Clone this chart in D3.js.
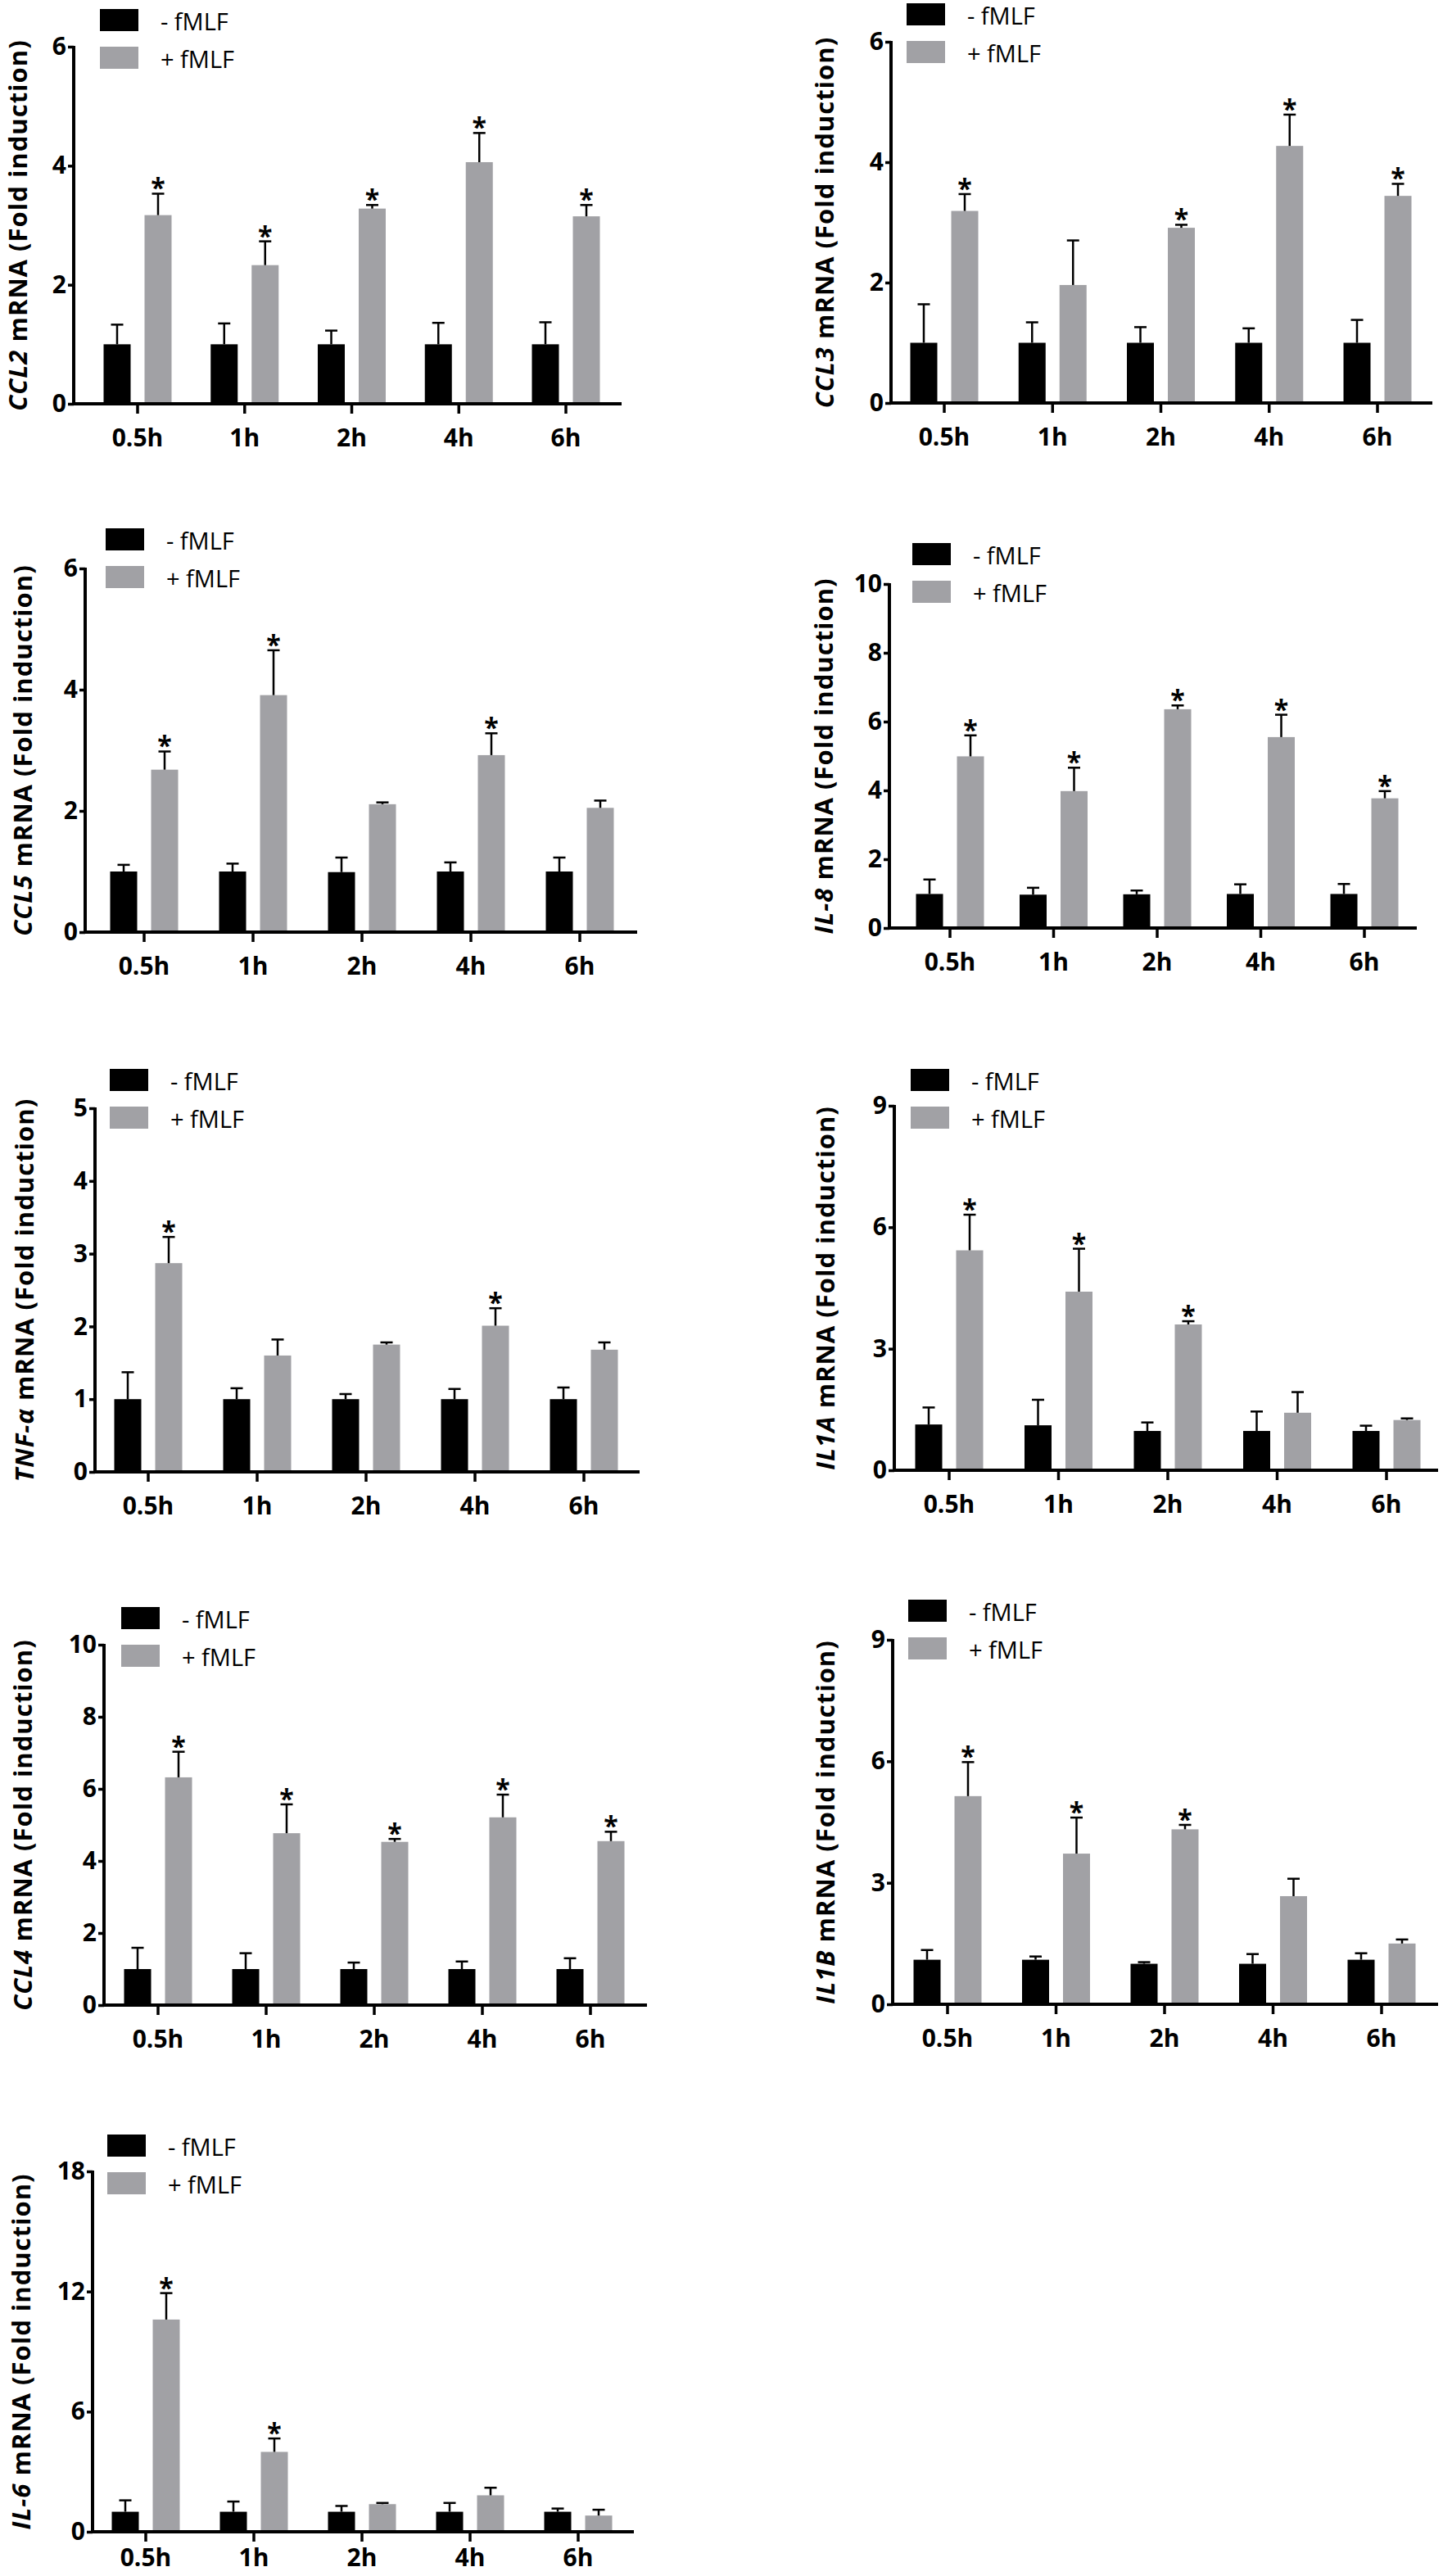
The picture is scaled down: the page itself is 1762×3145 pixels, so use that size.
<!DOCTYPE html>
<html>
<head>
<meta charset="utf-8">
<script src="https://cdn.jsdelivr.net/npm/d3@7"></script>
<style>
  body { margin: 0; background: #fff; }
  svg { display: block; }
  text { font-family: "Open Sans", sans-serif; }
</style>
</head>
<body>
<div id="figure"></div>
<script>
// time points and series
const timepoints = ["0.5h", "1h", "2h", "4h", "6h"];
const seriesNames = ["- fMLF", "+ fMLF"];

// CCL2
const ccl2Minus = [1.0, 1.0, 1.0, 1.0, 1.0];
const ccl2MinusErr = [0.33, 0.35, 0.23, 0.36, 0.37];
const ccl2Plus = [3.17, 2.33, 3.28, 4.06, 3.15];
const ccl2PlusErr = [0.36, 0.40, 0.06, 0.49, 0.19];
const ccl2Stars = [true, true, true, true, true];

// CCL3
const ccl3Minus = [1.0, 1.0, 1.0, 1.0, 1.0];
const ccl3MinusErr = [0.64, 0.34, 0.26, 0.24, 0.38];
const ccl3Plus = [3.19, 1.96, 2.91, 4.27, 3.44];
const ccl3PlusErr = [0.28, 0.74, 0.05, 0.52, 0.20];
const ccl3Stars = [true, false, true, true, true];

// CCL5
const ccl5Minus = [1.0, 1.0, 0.99, 1.0, 1.0];
const ccl5MinusErr = [0.11, 0.13, 0.24, 0.15, 0.23];
const ccl5Plus = [2.68, 3.91, 2.11, 2.92, 2.05];
const ccl5PlusErr = [0.30, 0.74, 0.03, 0.36, 0.12];
const ccl5Stars = [true, true, false, true, false];

// IL-8
const il8Minus = [0.99, 0.97, 0.98, 0.99, 0.99];
const il8MinusErr = [0.42, 0.20, 0.11, 0.28, 0.29];
const il8Plus = [4.99, 3.98, 6.36, 5.55, 3.77];
const il8PlusErr = [0.61, 0.68, 0.11, 0.65, 0.21];
const il8Stars = [true, true, true, true, true];

// TNF-alpha
const tnfMinus = [1.0, 1.0, 1.0, 1.0, 1.0];
const tnfMinusErr = [0.37, 0.15, 0.07, 0.14, 0.16];
const tnfPlus = [2.87, 1.60, 1.75, 2.01, 1.68];
const tnfPlusErr = [0.36, 0.22, 0.03, 0.24, 0.10];
const tnfStars = [true, false, false, true, false];

// IL1A
const il1aMinus = [1.13, 1.11, 0.97, 0.97, 0.97];
const il1aMinusErr = [0.42, 0.63, 0.21, 0.48, 0.13];
const il1aPlus = [5.43, 4.41, 3.60, 1.42, 1.24];
const il1aPlusErr = [0.88, 1.06, 0.08, 0.51, 0.04];
const il1aStars = [true, true, true, false, false];

// CCL4
const ccl4Minus = [1.0, 1.0, 1.0, 1.0, 1.0];
const ccl4MinusErr = [0.59, 0.44, 0.18, 0.21, 0.30];
const ccl4Plus = [6.32, 4.77, 4.53, 5.21, 4.55];
const ccl4PlusErr = [0.71, 0.80, 0.08, 0.63, 0.26];
const ccl4Stars = [true, true, true, true, true];

// IL1B
const il1bMinus = [1.10, 1.10, 1.00, 1.00, 1.10];
const il1bMinusErr = [0.24, 0.08, 0.04, 0.24, 0.16];
const il1bPlus = [5.14, 3.72, 4.32, 2.67, 1.50];
const il1bPlusErr = [0.84, 0.89, 0.11, 0.43, 0.10];
const il1bStars = [true, true, true, false, false];

// IL-6
const il6Minus = [1.0, 1.0, 1.0, 1.0, 1.0];
const il6MinusErr = [0.57, 0.51, 0.29, 0.44, 0.16];
const il6Plus = [10.6, 3.99, 1.38, 1.82, 0.81];
const il6PlusErr = [1.32, 0.67, 0.06, 0.38, 0.29];
const il6Stars = [true, true, false, false, false];

const colors = ["#000000", "#a1a1a5"];

// panel placement on the page
const panels = [
  {gene: "CCL2", minus: ccl2Minus, minusErr: ccl2MinusErr, plus: ccl2Plus, plusErr: ccl2PlusErr, stars: ccl2Stars,
   yMax: 6, yTicks: [0, 2, 4, 6], left: 90, right: 759, top: 57, bottom: 493, firstTick: 168, lastTick: 691,
   legendX: 122, legendY: 11, labelX: 21},
  {gene: "CCL3", minus: ccl3Minus, minusErr: ccl3MinusErr, plus: ccl3Plus, plusErr: ccl3PlusErr, stars: ccl3Stars,
   yMax: 6, yTicks: [0, 2, 4, 6], left: 1088, right: 1749, top: 51, bottom: 492, firstTick: 1153, lastTick: 1682,
   legendX: 1107, legendY: 4, labelX: 1006},
  {gene: "CCL5", minus: ccl5Minus, minusErr: ccl5MinusErr, plus: ccl5Plus, plusErr: ccl5PlusErr, stars: ccl5Stars,
   yMax: 6, yTicks: [0, 2, 4, 6], left: 104, right: 778, top: 694, bottom: 1138, firstTick: 176, lastTick: 708,
   legendX: 129, legendY: 645, labelX: 27},
  {gene: "IL-8", minus: il8Minus, minusErr: il8MinusErr, plus: il8Plus, plusErr: il8PlusErr, stars: il8Stars,
   yMax: 10, yTicks: [0, 2, 4, 6, 8, 10], left: 1086, right: 1730, top: 713, bottom: 1133, firstTick: 1160, lastTick: 1666,
   legendX: 1114, legendY: 663, labelX: 1005},
  {gene: "TNF-α", minus: tnfMinus, minusErr: tnfMinusErr, plus: tnfPlus, plusErr: tnfPlusErr, stars: tnfStars,
   yMax: 5, yTicks: [0, 1, 2, 3, 4, 5], left: 116, right: 781, top: 1353, bottom: 1797, firstTick: 181, lastTick: 713,
   legendX: 134, legendY: 1305, labelX: 29},
  {gene: "IL1A", minus: il1aMinus, minusErr: il1aMinusErr, plus: il1aPlus, plusErr: il1aPlusErr, stars: il1aStars,
   yMax: 9, yTicks: [0, 3, 6, 9], left: 1092, right: 1756, top: 1350, bottom: 1795, firstTick: 1159, lastTick: 1693,
   legendX: 1112, legendY: 1305, labelX: 1007},
  {gene: "CCL4", minus: ccl4Minus, minusErr: ccl4MinusErr, plus: ccl4Plus, plusErr: ccl4PlusErr, stars: ccl4Stars,
   yMax: 10, yTicks: [0, 2, 4, 6, 8, 10], left: 127, right: 790, top: 2008, bottom: 2448, firstTick: 193, lastTick: 721,
   legendX: 148, legendY: 1962, labelX: 27},
  {gene: "IL1B", minus: il1bMinus, minusErr: il1bMinusErr, plus: il1bPlus, plusErr: il1bPlusErr, stars: il1bStars,
   yMax: 9, yTicks: [0, 3, 6, 9], left: 1090, right: 1756, top: 2002, bottom: 2447, firstTick: 1157, lastTick: 1687,
   legendX: 1109, legendY: 1953, labelX: 1007},
  {gene: "IL-6", minus: il6Minus, minusErr: il6MinusErr, plus: il6Plus, plusErr: il6PlusErr, stars: il6Stars,
   yMax: 18, yTicks: [0, 6, 12, 18], left: 113, right: 774, top: 2651, bottom: 3091, firstTick: 178, lastTick: 706,
   legendX: 131, legendY: 2606, labelX: 25, tickPad: 9}
];

const width = 1762, height = 3145;

const svg = d3.select("#figure")
  .append("svg")
  .attr("width", width)
  .attr("height", height);

function drawPanel(p) {
  const g = svg.append("g");

  // group scale centred on the tick marks
  const step = (p.lastTick - p.firstTick) / (timepoints.length - 1);
  const x0 = d3.scaleBand()
    .domain(timepoints)
    .range([p.firstTick - step / 2, p.lastTick + step / 2])
    .padding(0);

  // two bars inside every group
  const x1 = d3.scaleBand()
    .domain([0, 1])
    .range([-41.5, 41.5])
    .paddingInner(0.34);

  const y = d3.scaleLinear()
    .domain([0, p.yMax])
    .range([p.bottom, p.top]);

  const rows = [];
  timepoints.forEach((t, i) => {
    rows.push({t: t, s: 0, v: p.minus[i], e: p.minusErr[i], star: false});
    rows.push({t: t, s: 1, v: p.plus[i], e: p.plusErr[i], star: p.stars[i]});
  });
  const cx = d => x0(d.t) + x0.bandwidth() / 2 + x1(d.s) + x1.bandwidth() / 2;

  // bars
  g.selectAll("rect.bar")
    .data(rows)
    .enter()
    .append("rect")
      .attr("class", "bar")
      .attr("x", d => cx(d) - x1.bandwidth() / 2)
      .attr("y", d => y(d.v))
      .attr("width", x1.bandwidth())
      .attr("height", d => y(0) - y(d.v))
      .attr("fill", d => colors[d.s]);

  // error bars (upper half only)
  g.selectAll("line.err")
    .data(rows)
    .enter()
    .append("line")
      .attr("class", "err")
      .attr("x1", cx).attr("x2", cx)
      .attr("y1", d => y(d.v)).attr("y2", d => y(d.v + d.e))
      .attr("stroke", "#000").attr("stroke-width", 2.5);

  g.selectAll("line.cap")
    .data(rows)
    .enter()
    .append("line")
      .attr("class", "cap")
      .attr("x1", d => cx(d) - 7.5).attr("x2", d => cx(d) + 7.5)
      .attr("y1", d => y(d.v + d.e)).attr("y2", d => y(d.v + d.e))
      .attr("stroke", "#000").attr("stroke-width", 2.5);

  // significance stars
  g.selectAll("text.star")
    .data(rows.filter(d => d.star))
    .enter()
    .append("text")
      .attr("class", "star")
      .attr("x", cx)
      .attr("y", d => y(d.v + d.e) + 5)
      .attr("text-anchor", "middle")
      .attr("font-size", 32)
      .attr("font-weight", "bold")
      .text("*");

  // x axis
  const xAxis = g.append("g")
    .attr("transform", `translate(0,${p.bottom})`)
    .call(d3.axisBottom(x0).tickSize(12).tickPadding(p.tickPad || 19).tickSizeOuter(0));
  xAxis.select(".domain").remove();
  xAxis.selectAll(".tick line").attr("stroke", "#000").attr("stroke-width", 3.5);
  xAxis.selectAll("text")
    .attr("font-size", 30)
    .attr("font-weight", "bold")
    .attr("fill", "#000")
    .style("font-family", "'Open Sans', sans-serif");
  g.append("line")
    .attr("x1", p.left - 2).attr("x2", p.right)
    .attr("y1", p.bottom).attr("y2", p.bottom)
    .attr("stroke", "#000").attr("stroke-width", 4);

  // y axis
  const yAxis = g.append("g")
    .attr("transform", `translate(${p.left},0)`)
    .call(d3.axisLeft(y).tickValues(p.yTicks).tickFormat(d3.format("d")).tickSize(7).tickPadding(2));
  yAxis.select(".domain").remove();
  yAxis.selectAll(".tick line").attr("stroke", "#000").attr("stroke-width", 3.5);
  yAxis.selectAll("text")
    .attr("font-size", 30)
    .attr("font-weight", "bold")
    .attr("fill", "#000")
    .style("font-family", "'Open Sans', sans-serif");
  g.append("line")
    .attr("x1", p.left).attr("x2", p.left)
    .attr("y1", p.top - 1).attr("y2", p.bottom + 2)
    .attr("stroke", "#000").attr("stroke-width", 4);

  // y axis title
  const title = g.append("text")
    .attr("transform", `translate(${p.labelX},${(p.top + p.bottom) / 2}) rotate(-90)`)
    .attr("text-anchor", "middle")
    .attr("dominant-baseline", "central")
    .attr("font-size", 31)
    .attr("letter-spacing", 1)
    .attr("font-weight", "bold");
  title.append("tspan").attr("font-style", "italic").text(p.gene);
  title.append("tspan").text(" mRNA (Fold induction)");

  // legend
  const legend = g.selectAll("g.legend")
    .data(seriesNames)
    .enter()
    .append("g")
      .attr("class", "legend")
      .attr("transform", (d, i) => `translate(${p.legendX},${p.legendY + i * 46})`);
  legend.append("rect")
    .attr("width", 47)
    .attr("height", 27)
    .attr("fill", (d, i) => colors[i]);
  legend.append("text")
    .attr("x", 74)
    .attr("y", 14)
    .attr("dominant-baseline", "central")
    .attr("font-size", 29)
    .text(d => d);
}

panels.forEach(drawPanel);
</script>
</body>
</html>
